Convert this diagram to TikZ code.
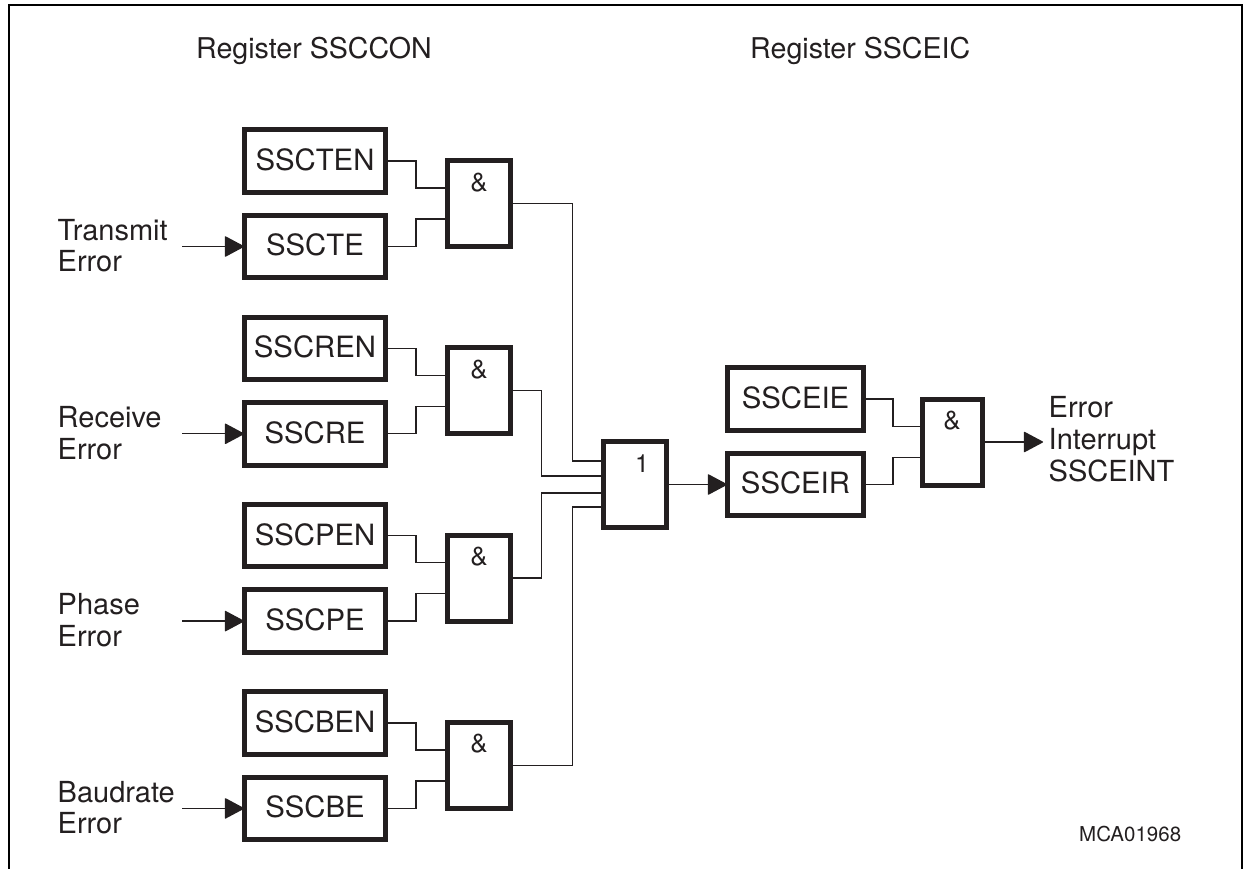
\documentclass[tikz,border=0pt]{standalone}
\usepackage{fontspec}
\setmainfont{TeX Gyre Heros}
\usetikzlibrary{arrows.meta}
\definecolor{ink}{HTML}{231F20}
\tikzset{
  x=1pt,y=-1pt,
  every node/.style={text=ink},
  regbox/.style={draw=ink,line width=5pt,minimum width=141pt,minimum height=62.5pt,inner sep=0pt,text depth=3pt,font=\fontsize{29.3}{32}\selectfont},
  gatebox/.style={draw=ink,line width=5pt,minimum width=63pt,minimum height=86pt,inner sep=0pt},
  gatesym/.style={inner sep=0pt,anchor=base,font=\fontsize{26}{30}\selectfont},
  txt/.style={inner sep=0pt,anchor=base west,font=\fontsize{28.6}{32}\selectfont},
  multi/.style={inner sep=0pt,anchor=north west,align=left,font=\fontsize{29}{31.6}\selectfont},
  wire/.style={draw=ink,line width=1.3pt},
  feed/.style={wire,-{Triangle[length=20pt,width=21pt,round]},shorten >=-2pt},
  frameline/.style={draw=black,line width=2.3pt}
}
\begin{document}
\begin{tikzpicture}
\useasboundingbox (0,0) rectangle (1243,868);
\clip (0,0) rectangle (1243,868);
\draw[frameline] (9,880) coordinate (fa) -- (9,5.2) coordinate (fb) -- (1241.8,5.2) coordinate (fc) -- (1241.8,880) coordinate (fd);
\node[txt] (hA) at (196,58) {Register SSCCON};
\node[txt] (hB) at (750,58) {Register SSCEIC};
\foreach \k/\i/\en/\fl/\lab in {0/T/SSCTEN/SSCTE/Transmit,1/R/SSCREN/SSCRE/Receive,2/P/SSCPEN/SSCPE/Phase,3/B/SSCBEN/SSCBE/Baudrate}{
  \pgfmathsetmacro\dy{187.3*\k}
  \node[regbox] (en\i) at (315,161+\dy) {\en};
  \node[regbox] (fl\i) at (315,246.5+\dy) {\fl};
  \node[gatebox] (g\i) at (479,203.5+\dy) {};
  \node[gatesym] (s\i) at (479,191+\dy) {\&};
  \node[multi] (lab\i) at (57.5,219+\dy) {\lab\\Error};
  \coordinate (in\i) at (182,246.5+\dy);
  \draw[feed] (in\i) -- (fl\i.west);
  \draw[wire] (en\i.east) -- ++(28,0) |- ([yshift=15.5pt]g\i.west);
  \draw[wire] (fl\i.east) -- ++(28,0) |- ([yshift=-15.5pt]g\i.west);
}
\node[gatebox,minimum height=86.5pt] (or) at (635,484.5) {};
\node[gatesym,font=\fontsize{25}{30}\selectfont] (sor) at (642,472) {1};
\draw[wire] (gT.east) -- ++(59.5,0) |- ([yshift=23.5pt]or.west);
\draw[wire] (gR.east) -- ++(28.5,0) |- ([yshift=8.5pt]or.west);
\draw[wire] (gP.east) -- ++(28.5,0) |- ([yshift=-8.5pt]or.west);
\draw[wire] (gB.east) -- ++(59.5,0) |- ([yshift=-22.5pt]or.west);
\node[regbox,minimum width=136pt] (eie) at (795.5,399) {SSCEIE};
\node[regbox,minimum width=136pt] (eir) at (795.5,484.5) {SSCEIR};
\node[gatebox,minimum width=60pt] (gE) at (952.5,442) {};
\node[gatesym] (sE) at (952,429) {\&};
\draw[feed] (or.east) -- (eir.west);
\draw[wire] (eie.east) -- ++(27,0) |- ([yshift=15.5pt]gE.west);
\draw[wire] (eir.east) -- ++(27,0) |- ([yshift=-15.5pt]gE.west);
\node[multi] (out) at (1048.5,396.5) {Error\\Interrupt\\SSCEINT};
\coordinate (outEnd) at (1041,442);
\draw[feed] (gE.east) -- (outEnd);
\node[txt,font=\fontsize{20.5}{24}\selectfont] (code) at (1079,841) {MCA01968};
\end{tikzpicture}
\end{document}
